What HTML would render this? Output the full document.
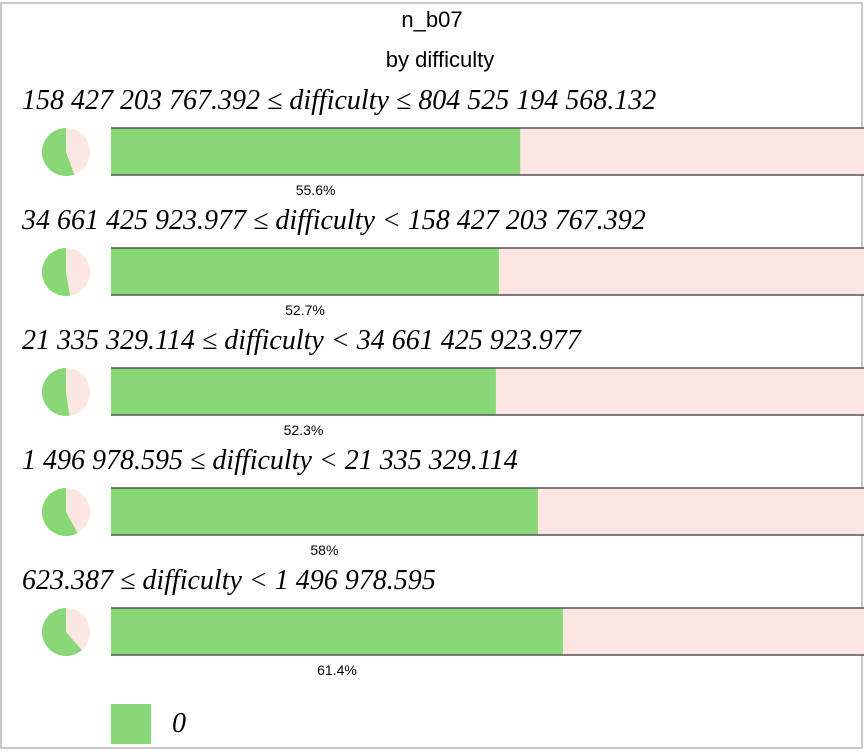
<!DOCTYPE html>
<html><head><style>
body{margin:0;background:#fff;}
</style></head><body>
<svg width="864" height="750" xmlns="http://www.w3.org/2000/svg">
<rect x="1" y="3" width="861" height="745" fill="#fff" stroke="#c8c8c8" stroke-width="2"/>
<text x="432" y="27" font-family="Liberation Sans, sans-serif" font-size="22" text-anchor="middle">n_b07</text>
<text x="440" y="67" font-family="Liberation Sans, sans-serif" font-size="22" text-anchor="middle">by difficulty</text>
<g font-family="Liberation Serif, serif" font-style="italic" font-size="28">
<text x="22" y="109">158 427 203 767.392 ≤ difficulty ≤ 804 525 194 568.132</text>
<text x="22" y="229">34 661 425 923.977 ≤ difficulty &lt; 158 427 203 767.392</text>
<text x="22" y="349">21 335 329.114 ≤ difficulty &lt; 34 661 425 923.977</text>
<text x="22" y="469">1 496 978.595 ≤ difficulty &lt; 21 335 329.114</text>
<text x="22" y="589">623.387 ≤ difficulty &lt; 1 496 978.595</text>
</g>
<g fill="#fbe6e1">
<rect x="111" y="128" width="753" height="47"/>
<rect x="111" y="248" width="753" height="47"/>
<rect x="111" y="368" width="753" height="47"/>
<rect x="111" y="488" width="753" height="47"/>
<rect x="111" y="608" width="753" height="47"/>
<circle cx="66" cy="152" r="24"/>
<circle cx="66" cy="272" r="24"/>
<circle cx="66" cy="392" r="24"/>
<circle cx="66" cy="512" r="24"/>
<circle cx="66" cy="632" r="24"/>
</g>
<g fill="#88d878">
<rect x="111" y="128" width="409.2" height="47"/>
<rect x="111" y="248" width="387.9" height="47"/>
<rect x="111" y="368" width="384.9" height="47"/>
<rect x="111" y="488" width="426.9" height="47"/>
<rect x="111" y="608" width="451.9" height="47"/>
<path d="M66 152 L74.27 174.53 A24 24 0 1 1 66 128 Z"/>
<path d="M66 272 L70.05 295.65 A24 24 0 1 1 66 248 Z"/>
<path d="M66 392 L69.46 415.75 A24 24 0 1 1 66 368 Z"/>
<path d="M66 512 L77.56 533.03 A24 24 0 1 1 66 488 Z"/>
<path d="M66 632 L81.76 650.1 A24 24 0 1 1 66 608 Z"/>
<rect x="111" y="704" width="40" height="40"/>
</g>
<g stroke="#555" stroke-width="1.5">
<line x1="111" y1="128" x2="864" y2="128"/><line x1="111" y1="175" x2="864" y2="175"/>
<line x1="111" y1="248" x2="864" y2="248"/><line x1="111" y1="295" x2="864" y2="295"/>
<line x1="111" y1="368" x2="864" y2="368"/><line x1="111" y1="415" x2="864" y2="415"/>
<line x1="111" y1="488" x2="864" y2="488"/><line x1="111" y1="535" x2="864" y2="535"/>
<line x1="111" y1="608" x2="864" y2="608"/><line x1="111" y1="655" x2="864" y2="655"/>
</g>
<g font-family="Liberation Sans, sans-serif" font-size="14" text-anchor="middle">
<text x="315.6" y="195">55.6%</text>
<text x="305" y="315">52.7%</text>
<text x="303.5" y="435">52.3%</text>
<text x="324.4" y="555">58%</text>
<text x="337" y="675">61.4%</text>
</g>
<text x="172" y="732" font-family="Liberation Serif, serif" font-style="italic" font-size="28">0</text>
</svg>
</body></html>
